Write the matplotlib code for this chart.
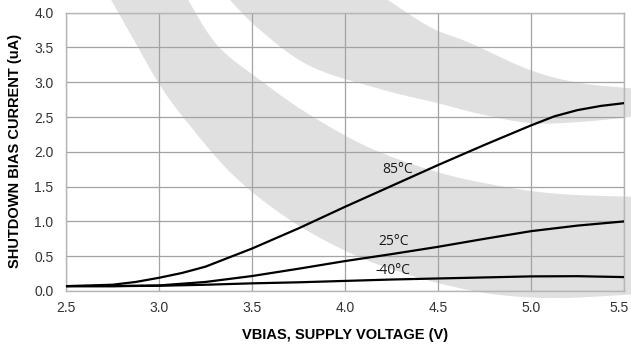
import numpy as np
import matplotlib
matplotlib.use("Agg")
import matplotlib.pyplot as plt
from matplotlib.patches import Polygon
from matplotlib.transforms import Affine2D

# Supply voltage (V) and shutdown bias current (uA) per temperature
v_85c = [2.5, 2.75, 2.875, 3.0, 3.125, 3.25, 3.5, 3.75, 4.0, 4.25, 4.5, 4.75,
         4.875, 5.0, 5.125, 5.25, 5.375, 5.5]
i_85c = [0.07, 0.09, 0.13, 0.19, 0.26, 0.35, 0.61, 0.90, 1.21, 1.51, 1.81, 2.10,
         2.24, 2.38, 2.51, 2.60, 2.66, 2.70]
v_25c = [2.5, 2.75, 3.0, 3.25, 3.5, 3.75, 4.0, 4.25, 4.5, 4.75, 5.0, 5.25, 5.5]
i_25c = [0.07, 0.07, 0.08, 0.13, 0.215, 0.32, 0.43, 0.53, 0.635, 0.75, 0.86, 0.94, 1.00]
v_m40c = [2.5, 2.75, 3.0, 3.25, 3.5, 3.75, 4.0, 4.25, 4.5, 4.75, 5.0, 5.25, 5.5]
i_m40c = [0.07, 0.07, 0.075, 0.09, 0.11, 0.125, 0.145, 0.165, 0.18, 0.195, 0.21, 0.213, 0.20]

series_labels = ["85°C", "25°C", "-40°C"]
label_x = [4.28, 4.26, 4.26]
label_y = [1.745, 0.71, 0.295]

x_ticks = [2.5, 3.0, 3.5, 4.0, 4.5, 5.0, 5.5]
x_ticklabels = ["2.5", "3.0", "3.5", "4.0", "4.5", "5.0", "5.5"]
y_ticks = [0.0, 0.5, 1.0, 1.5, 2.0, 2.5, 3.0, 3.5, 4.0]
y_ticklabels = ["0.0", "0.5", "1.0", "1.5", "2.0", "2.5", "3.0", "3.5", "4.0"]

W, H = 631, 347
fig = plt.figure(figsize=(W / 100, H / 100), dpi=100)
fig.patch.set_facecolor("white")

# pixel space (origin top-left) -> figure coordinates
px = Affine2D().scale(1 / W, -1 / H).translate(0, 1) + fig.transFigure


def smooth(pts, n=16):
    p = np.asarray(pts, float)
    p = np.vstack([p[0], p, p[-1]])
    out = []
    t = np.linspace(0, 1, n, endpoint=False)[:, None]
    for i in range(1, len(p) - 2):
        p0, p1, p2, p3 = p[i - 1], p[i], p[i + 1], p[i + 2]
        out.append(0.5 * (2 * p1 + (-p0 + p2) * t
                          + (2 * p0 - 5 * p1 + 4 * p2 - p3) * t ** 2
                          + (-p0 + 3 * p1 - 3 * p2 + p3) * t ** 3))
    out.append(p[-2][None])
    return np.vstack(out)


# background swoosh bands
outer_top = [(385, -2), (430, 27), (470, 43), (530, 70), (580, 83), (640, 89)]
outer_bot = [(228, -2), (260, 30), (310, 66), (380, 89), (437, 103), (480, 114),
             (530, 123), (580, 122), (640, 116)]
inner_top = [(187, -2), (217, 45), (260, 80), (310, 115), (370, 148), (437, 172),
             (500, 186), (560, 194), (640, 197)]
inner_bot = [(110, -2), (135, 42), (158, 82), (183, 117), (233, 175), (290, 220),
             (350, 253), (400, 272), (450, 286), (500, 295), (560, 298), (640, 294)]

band_color = "#e0e0e0"
for top, bot in [(outer_top, outer_bot), (inner_top, inner_bot)]:
    poly = np.vstack([smooth(top), smooth(bot)[::-1]])
    fig.add_artist(Polygon(poly, closed=True, transform=px, facecolor=band_color,
                           edgecolor="none", zorder=-5))

ax = fig.add_axes([66 / W, 1 - 291 / H, (624 - 66) / W, (291 - 12.7) / H])
ax.set_facecolor("none")

for vx, cur in ((v_85c, i_85c), (v_25c, i_25c), (v_m40c, i_m40c)):
    ax.plot(vx, cur, color="black", lw=1.6, solid_capstyle="round",
            solid_joinstyle="round", zorder=3)

for txt, lx, ly in zip(series_labels, label_x, label_y):
    ax.text(lx, ly, txt, ha="center", va="center", fontsize=10,
            family="Open Sans", color="#1a1a1a", zorder=4)

ax.set_xlim(2.5, 5.5)
ax.set_ylim(0, 4.0)
ax.set_xticks(x_ticks)
ax.set_xticklabels(x_ticklabels)
ax.set_yticks(y_ticks)
ax.set_yticklabels(y_ticklabels)
ax.tick_params(length=0, labelsize=10, labelcolor="#333333")
ax.tick_params(axis="x", pad=7)
ax.tick_params(axis="y", pad=9)
for lbl in ax.get_xticklabels() + ax.get_yticklabels():
    lbl.set_family("Liberation Sans")
# keep the last x tick label inside the canvas
last = ax.get_xticklabels()[-1]
last.set_transform(last.get_transform() + Affine2D().translate(-5, 0))

ax.grid(True, color="#a3a3a3", lw=0.9)
ax.set_axisbelow(True)
for s in ax.spines.values():
    s.set_color("#b5b5b5")
    s.set_linewidth(1.0)

fig.text(345 / W, 1 - 335 / H, "VBIAS, SUPPLY VOLTAGE (V)", ha="center", va="center",
         fontsize=10.5, fontweight="bold", family="Liberation Sans", color="black")
fig.text(15 / W, 1 - 151 / H, "SHUTDOWN BIAS CURRENT (uA)", ha="center", va="center",
         rotation=90, fontsize=10.5, fontweight="bold", family="Liberation Sans",
         color="black")

fig.savefig("out.png", dpi=100)
